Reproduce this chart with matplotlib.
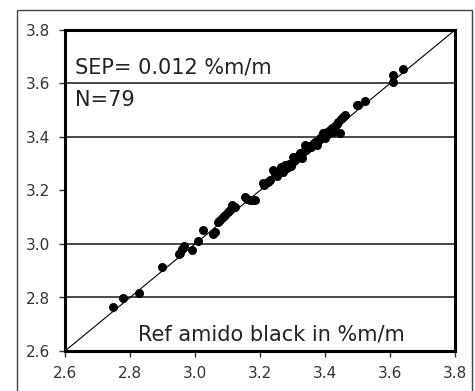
import matplotlib.pyplot as plt
from matplotlib.patches import Rectangle

# reference vs predicted amido black, %m/m
ref = [2.749, 2.777, 2.829, 2.899, 2.951, 2.955, 2.961, 2.967, 2.990, 3.008,
       3.026, 3.056, 3.060, 3.072, 3.077, 3.085, 3.093, 3.102, 3.108, 3.113,
       3.118, 3.123, 3.154, 3.160, 3.169, 3.178, 3.185, 3.210, 3.213, 3.226,
       3.232, 3.241, 3.246, 3.252, 3.258, 3.266, 3.271, 3.277, 3.282, 3.288,
       3.295, 3.302, 3.306, 3.312, 3.318, 3.323, 3.328, 3.333, 3.338, 3.342,
       3.348, 3.352, 3.358, 3.364, 3.369, 3.374, 3.380, 3.385, 3.390, 3.395,
       3.400, 3.405, 3.410, 3.415, 3.420, 3.425, 3.430, 3.436, 3.441, 3.446,
       3.450, 3.456, 3.462, 3.497, 3.503, 3.523, 3.610, 3.610, 3.641]
pred = [2.763, 2.797, 2.818, 2.914, 2.961, 2.968, 2.980, 2.992, 2.978, 3.012,
        3.052, 3.037, 3.045, 3.083, 3.090, 3.102, 3.110, 3.121, 3.127, 3.146,
        3.138, 3.140, 3.177, 3.168, 3.164, 3.166, 3.164, 3.227, 3.220, 3.233,
        3.240, 3.277, 3.262, 3.255, 3.270, 3.286, 3.268, 3.295, 3.283, 3.300,
        3.290, 3.326, 3.310, 3.318, 3.330, 3.339, 3.322, 3.345, 3.370, 3.352,
        3.360, 3.368, 3.362, 3.375, 3.382, 3.370, 3.388, 3.395, 3.402, 3.414,
        3.398, 3.420, 3.410, 3.426, 3.432, 3.418, 3.440, 3.448, 3.457, 3.414,
        3.466, 3.476, 3.482, 3.520, 3.520, 3.536, 3.607, 3.632, 3.653]

ticks = [2.6, 2.8, 3.0, 3.2, 3.4, 3.6, 3.8]
grid_y = [2.8, 3.0, 3.4, 3.6]

fig = plt.figure(figsize=(4.75, 3.91), dpi=100)
fig.patch.set_facecolor("white")
ax = fig.add_axes([65/475, 1 - 351/391, 390/475, 321/391])

# outer frame around the chart
fig.patches.append(Rectangle((17/475, -0.05), 455/475, 1.05 - 10/391,
                             transform=fig.transFigure, fill=False,
                             edgecolor="#444444", linewidth=1))

for g in grid_y:
    ax.axhline(g, color="#3a3a3a", linewidth=1.3, zorder=1)

ax.plot([2.6, 3.8], [2.6, 3.8], color="black", linewidth=0.8, zorder=2)
ax.scatter(ref, pred, s=42, color="black", zorder=3, linewidths=0)

ax.set_xlim(2.6, 3.8)
ax.set_ylim(2.6, 3.8)
ax.set_xticks(ticks)
ax.set_yticks(ticks)
ax.set_xticklabels(["%.1f" % t for t in ticks])
ax.set_yticklabels(["%.1f" % t for t in ticks])
ax.tick_params(direction="out", length=4, width=1, color="#333333",
               labelsize=11, labelcolor="#333333", pad=7)
for s in ax.spines.values():
    s.set_linewidth(2.2)
    s.set_color("black")

ax.text(2.631, 3.658, "SEP= 0.012 %m/m", fontsize=15, color="#222222",
        ha="left", va="center")
ax.text(2.631, 3.538, "N=79", fontsize=15, color="#222222",
        ha="left", va="center")
ax.text(3.235, 2.660, "Ref amido black in %m/m", fontsize=15,
        color="#222222", ha="center", va="center")

fig.savefig("out.png", dpi=100)
